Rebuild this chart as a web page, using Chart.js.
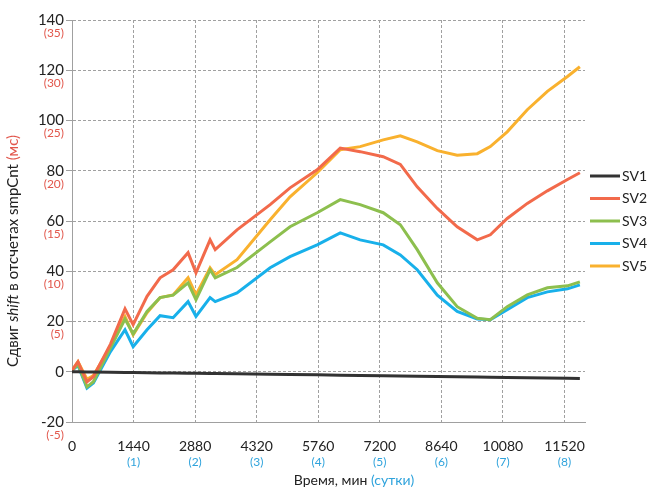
<!DOCTYPE html>
<html>
<head>
<meta charset="utf-8">
<script src="https://cdn.jsdelivr.net/npm/chart.js@4.4.1/dist/chart.umd.min.js"></script>
<style>
  html, body { margin: 0; padding: 0; background: #fff; }
  #wrap { width: 648px; height: 488px; }
</style>
</head>
<body>
<div id="wrap"><canvas id="chart"></canvas></div>
<script>
// time, minutes
const minutes = [0, 140, 350, 500, 900, 1240, 1430, 1755, 2060, 2365, 2715, 2900, 3230, 3350, 3860, 4635,
  5100, 5735, 6275, 6740, 7280, 7680, 8075, 8545, 9010, 9480, 9785, 10180, 10650, 11120, 11590, 11880];

const sv1 = [0, 0, -0.1, -0.1, -0.2, -0.3, -0.3, -0.4, -0.5, -0.5, -0.6, -0.6, -0.7, -0.7, -0.8, -1.0,
  -1.1, -1.2, -1.4, -1.5, -1.6, -1.7, -1.8, -1.9, -2.0, -2.1, -2.2, -2.3, -2.4, -2.5, -2.6, -2.7];
const sv2 = [0.5, 4, -4, -2, 11, 25, 18.7, 30, 37.4, 40.6, 47.4, 39.4, 52.5, 48.6, 56.5, 66.5,
  73.2, 80.4, 89, 87.6, 85.6, 82.5, 73.6, 65, 57.7, 52.5, 54.5, 61, 67, 72, 76.5, 79.2];
const sv3 = [0.5, 3, -6, -4, 9.5, 21, 15, 24, 29.5, 30.5, 35.4, 28.7, 40.6, 37.4, 41.5, 51.7,
  57.7, 63.3, 68.5, 66.5, 63.3, 58.5, 48.6, 35.4, 25.9, 21.3, 20.7, 25.9, 30.6, 33.4, 34.2, 35.8];
const sv4 = [0.5, 2.5, -6.5, -4.5, 8, 16.7, 10, 16.7, 22.3, 21.5, 27.9, 22, 29.5, 27.9, 31.4, 41.4,
  45.8, 50.5, 55.3, 52.5, 50.5, 46.5, 40.6, 30.5, 24, 21, 20.7, 24.7, 29.5, 31.8, 33, 34.6];
const sv5 = [0.5, 4, -3, -1.5, 10, 22, 14.7, 23.5, 29.5, 30.6, 37.4, 30.6, 41.4, 38.6, 44.6, 60.5,
  69.6, 79.2, 88.4, 89.6, 92.3, 93.9, 91.5, 88, 86.2, 86.8, 89.6, 95.5, 104.3, 111.6, 117.5, 121.4];

const seriesNames = ['SV1', 'SV2', 'SV3', 'SV4', 'SV5'];
const seriesColors = ['#333333', '#f26a4b', '#8dbf4e', '#18b0ea', '#f9b12e'];

const xTicks = [0, 1440, 2880, 4320, 5760, 7200, 8640, 10080, 11520];
const dayLabels = ['', '(1)', '(2)', '(3)', '(4)', '(5)', '(6)', '(7)', '(8)'];
const yTicks = [-20, 0, 20, 40, 60, 80, 100, 120, 140];
const msLabels = ['(-5)', '', '(5)', '(10)', '(15)', '(20)', '(25)', '(30)', '(35)'];

const FONT = 'Lato, "Noto Sans", sans-serif';
const RED = '#e2574c';
const BLUE = '#2fa3dc';
const GRID = '#a0a0a0';

const allSeries = [sv1, sv2, sv3, sv4, sv5];

// second rows of tick labels, the two-colour axis titles and the legend
const extras = {
  id: 'extras',
  afterDraw(chart) {
    const { ctx, chartArea, scales: { x, y } } = chart;
    ctx.save();
    ctx.font = '12px ' + FONT;
    ctx.textBaseline = 'middle';
    ctx.fillStyle = RED;
    ctx.textAlign = 'right';
    yTicks.forEach((v, i) => {
      if (msLabels[i]) ctx.fillText(msLabels[i], 64, y.getPixelForValue(v) + 13);
    });
    ctx.fillStyle = BLUE;
    ctx.textAlign = 'center';
    xTicks.forEach((v, i) => {
      if (dayLabels[i]) ctx.fillText(dayLabels[i], x.getPixelForValue(v), 462);
    });

    // legend
    const mid = (chartArea.top + chartArea.bottom) / 2;
    ctx.font = '14px ' + FONT;
    ctx.textAlign = 'left';
    seriesNames.forEach((name, i) => {
      const ly = mid + (i - 2) * 22.5;
      ctx.strokeStyle = seriesColors[i];
      ctx.lineWidth = 3;
      ctx.beginPath();
      ctx.moveTo(chartArea.right + 5, ly);
      ctx.lineTo(chartArea.right + 35, ly);
      ctx.stroke();
      ctx.fillStyle = '#222';
      ctx.fillText(name, chartArea.right + 37, ly);
    });

    // x title
    const p1 = 'Время, мин ', p2 = '(сутки)';
    const w1 = ctx.measureText(p1).width, w2 = ctx.measureText(p2).width;
    const sx = 354 - (w1 + w2) / 2;
    ctx.fillStyle = '#222';
    ctx.fillText(p1, sx, 480);
    ctx.fillStyle = BLUE;
    ctx.fillText(p2, sx + w1, 480);

    // y title, rotated
    const parts = [
      ['Сдвиг ', 'normal', '#222'],
      ['shift', 'italic', '#222'],
      [' в отсчетах smpCnt ', 'normal', '#222'],
      ['(мс)', 'normal', RED]
    ];
    let total = 0;
    parts.forEach(p => { ctx.font = p[1] + ' 15px ' + FONT; total += ctx.measureText(p[0]).width; });
    ctx.translate(13, 251);
    ctx.rotate(-Math.PI / 2);
    let cx = -total / 2;
    parts.forEach(p => {
      ctx.font = p[1] + ' 15px ' + FONT;
      ctx.fillStyle = p[2];
      ctx.fillText(p[0], cx, 0);
      cx += ctx.measureText(p[0]).width;
    });
    ctx.restore();
  }
};

const datasets = seriesNames.map((name, i) => ({
  label: name,
  data: minutes.map((m, k) => ({ x: m, y: allSeries[i][k] })),
  borderColor: seriesColors[i],
  backgroundColor: seriesColors[i],
  borderWidth: 3,
  pointRadius: 0,
  tension: 0,
  fill: false
}));

new Chart(document.getElementById('chart'), {
  type: 'line',
  data: { datasets },
  plugins: [extras],
  options: {
    responsive: true,
    maintainAspectRatio: false,
    animation: false,
    layout: { padding: { top: 20, left: 0, right: 63, bottom: 0 } },
    plugins: {
      legend: { display: false },
      tooltip: { enabled: false }
    },
    scales: {
      x: {
        type: 'linear',
        min: 0,
        max: 12000,
        afterBuildTicks: s => { s.ticks = xTicks.map(v => ({ value: v })); },
        afterFit: s => { s.height = 66; },
        grid: { color: GRID, lineWidth: 1, drawTicks: false },
        border: { color: GRID, dash: [3, 2] },
        ticks: {
          color: '#222', padding: 16, maxRotation: 0,
          font: { family: FONT, size: 14 },
          callback: v => String(v)
        }
      },
      y: {
        min: -20,
        max: 140,
        afterBuildTicks: s => { s.ticks = yTicks.map(v => ({ value: v })); },
        afterFit: s => { s.width = 72; },
        grid: { color: GRID, lineWidth: 1, tickLength: 6 },
        border: { color: GRID, dash: [3, 2] },
        ticks: { color: '#222', padding: 2, font: { family: FONT, size: 15 } }
      }
    }
  }
});
</script>
</body>
</html>
